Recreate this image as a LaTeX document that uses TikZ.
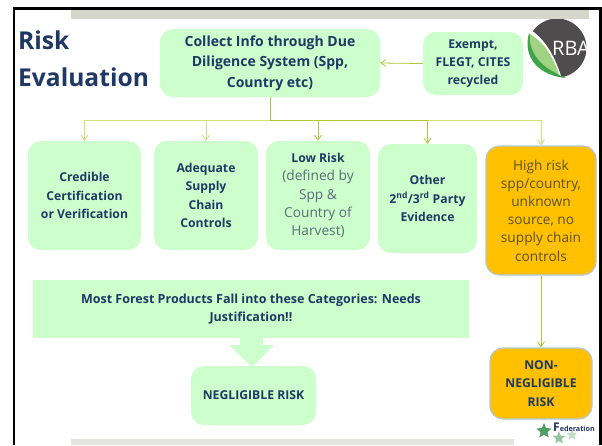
\documentclass[tikz,border=0pt]{standalone}
\usepackage{fontspec}
\setmainfont{Open Sans}
\usetikzlibrary{arrows.meta,shapes.geometric}
\definecolor{navy}{HTML}{1F3864}
\definecolor{mint}{HTML}{CCFFCC}
\definecolor{amber}{HTML}{FFC000}
\definecolor{lineg}{HTML}{AFC832}
\definecolor{linel}{HTML}{D3E07A}
\definecolor{softtxt}{HTML}{5B6B78}
\definecolor{bandtop}{HTML}{D5D7CB}
\definecolor{bandbot}{HTML}{E3E4DC}
\definecolor{riskedge}{HTML}{B4C7DC}
\definecolor{risktxt}{HTML}{5C5228}
\definecolor{logogrey}{HTML}{4F4C4D}
\definecolor{leafdark}{HTML}{3FA34A}
\definecolor{leaflight}{HTML}{9FD382}
\definecolor{stargreen}{HTML}{4E9E62}
\newcommand{\soft}[1]{\mdseries\fontsize{13.7}{18.2}\selectfont\textcolor{softtxt}{#1}}
\tikzset{
  box/.style={fill=mint,rounded corners=13pt,align=center,text=navy,inner sep=0pt,
    font=\fontsize{12.2}{18.2}\selectfont\bfseries},
  bigbox/.style={box,font=\fontsize{14}{20.5}\selectfont\bfseries},
  riskbox/.style={box,fill=amber,draw=riskedge,line width=1.2pt},
  conn/.style={draw=lineg,line width=0.8pt},
  arrowc/.style={conn,-{Straight Barb[length=5pt,width=7pt]}},
  fedstar/.style={star,star points=5,star point ratio=2.2,inner sep=0pt,draw=none}
}
\begin{document}
\begin{tikzpicture}[x=1pt,y=-1pt]
\useasboundingbox (0,0) rectangle (602,445);
% frame and bands
\fill[white] (0,0) rectangle (602,445);
\fill[black] (13,7) rectangle (602,9.5);
\fill[black] (13,7) rectangle (15,445);
\fill[black] (599,7) rectangle (602,445);
\fill[bandtop] (71,9.5) rectangle (589,19);
\fill[bandbot] (71,439) rectangle (514,445);
% title
\node[anchor=west,text=navy,inner sep=0pt,font=\fontsize{24.6}{36}\selectfont\bfseries] (titlea) at (18,40) {Risk};
\node[anchor=west,text=navy,inner sep=0pt,font=\fontsize{24.6}{36}\selectfont\bfseries] (titleb) at (18,77) {Evaluation};
% RBA logo
\begin{scope}
\clip (526,19) rectangle (587,79);
\fill[logogrey] (557,48) circle (29.5);
\fill[white] (526,30) -- (531,30) .. controls (548,42) and (556,60) .. (562,79) -- (526,79) -- cycle;
\fill[leafdark] (529,33) .. controls (522,58) and (540,76) .. (566,78)
   .. controls (550,72) and (538,58) .. cycle;
\fill[leaflight] (530,34) .. controls (528,50) and (540,67) .. (559,74)
   .. controls (553,58) and (546,44) .. cycle;
\node[text=white,inner sep=0pt,anchor=west,font=\fontsize{20}{20}\selectfont] (rba) at (552,48) {RBA};
\end{scope}
% federation logo
\node[fedstar,fill=stargreen,minimum size=16pt] (stara) at (544,431) {};
\node[fedstar,fill=stargreen!60!white,minimum size=13pt] (starb) at (559,438) {};
\node[fedstar,fill=stargreen!35!white,minimum size=11pt] (starc) at (572,435) {};
\node[anchor=west,inner sep=0pt,text=navy,font=\fontsize{7.2}{8}\selectfont\bfseries] (fed) at (553,427) {{\fontsize{12}{12}\selectfont F}ederation};
% boxes
\node[bigbox,minimum width=220pt,minimum height=68pt] (collect) at (270,63) {Collect Info through Due\\Diligence System (Spp,\\Country etc)};
\node[box,minimum width=100pt,minimum height=63pt] (exempt) at (473,63.5) {Exempt,\\FLEGT, CITES\\recycled};
\node[box,minimum width=113pt,minimum height=109pt] (cred) at (84.5,195.5) {Credible\\Certification\\or Verification};
\node[box,minimum width=104pt,minimum height=109pt] (adeq) at (206,195.5) {Adequate\\Supply\\Chain\\Controls};
\node[box,minimum width=104pt,minimum height=109pt] (low) at (318,195.5) {Low Risk\\\soft{(defined by}\\\soft{Spp \&}\\\soft{Country of}\\\soft{Harvest)}};
\node[box,minimum width=99pt,minimum height=109pt] (other) at (427.5,198.5) {Other\\2\textsuperscript{nd}/3\textsuperscript{rd} Party\\Evidence};
\node[riskbox,text=risktxt,font=\fontsize{13.7}{18.2}\selectfont,minimum width=110pt,minimum height=129pt] (high) at (541,210.5) {High risk\\spp/country,\\unknown\\source, no\\supply chain\\controls};
\node[box,rounded corners=0pt,font=\fontsize{12.5}{18.2}\selectfont\bfseries,minimum width=436pt,minimum height=58pt] (most) at (251,309) {Most Forest Products Fall into these Categories: Needs\\Justification!!};
\node[box,minimum width=125pt,minimum height=59pt] (negl) at (253.5,395.5) {NEGLIGIBLE RISK};
\node[riskbox,minimum width=102pt,minimum height=71pt] (nonn) at (541,383.5) {NON-\\NEGLIGIBLE\\RISK};
% block arrow
\fill[mint] (240,338) -- (240,345) -- (229,345) -- (252,367) -- (274,345) -- (263,345) -- (263,338) -- cycle;
% connectors
\coordinate (hub) at (270,120.5);
\draw[conn] (collect.south) -- (hub);
\draw[arrowc,draw=linel] (hub) -| (cred.north);
\draw[arrowc,draw=linel] (hub) -| (adeq.north);
\draw[arrowc] (hub) -| (low.north);
\draw[arrowc] (hub) -| (other.north);
\draw[arrowc,draw=linel] (other.north |- hub) -| (high.north);
\draw[arrowc] (exempt.west) -- (collect.east);
\draw[arrowc] (high.south) -- (nonn.north);
\end{tikzpicture}
\end{document}
